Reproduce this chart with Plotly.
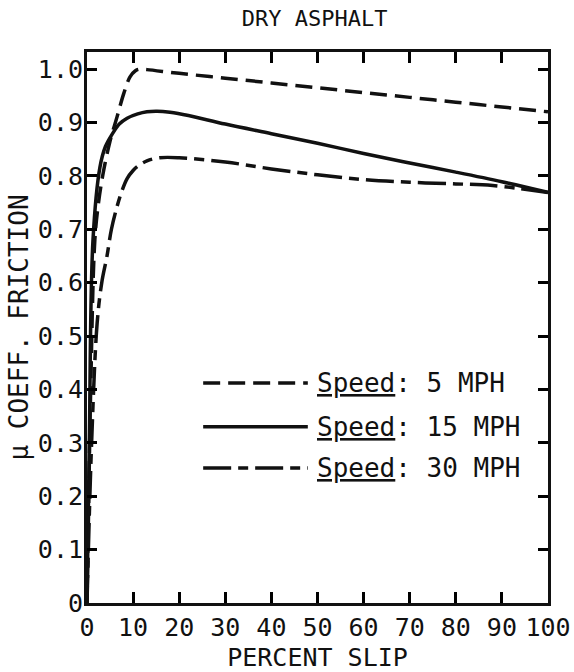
import plotly.graph_objects as go

# ---- data ----
slip_5 = [0, 0.3, 0.8, 1.7, 2.5, 3.5, 5, 6.5, 8, 9.3, 10.5, 11.5, 13, 20, 30, 40, 50, 60, 70, 80, 90, 100]
mu_5 = [0.0, 0.15, 0.40, 0.68, 0.75, 0.805, 0.865, 0.91, 0.955, 0.985, 0.997, 1.0, 0.999, 0.992, 0.983, 0.974, 0.965, 0.956, 0.947, 0.938, 0.929, 0.92]

slip_15 = [0, 0.5, 1.3, 2.8, 4, 5.6, 7, 8.7, 11, 13, 15.2, 18, 22, 30, 40, 50, 60, 70, 80, 90, 100]
mu_15 = [0.0, 0.30, 0.68, 0.816, 0.855, 0.88, 0.897, 0.908, 0.916, 0.92, 0.921, 0.919, 0.913, 0.897, 0.879, 0.861, 0.842, 0.824, 0.807, 0.789, 0.769]

slip_30 = [0, 1, 2.2, 3.2, 4.3, 5.3, 6.5, 7.5, 8.7, 10, 11, 13, 15.8, 20, 30, 40, 50, 60, 70, 80, 88, 100]
mu_30 = [0.0, 0.30, 0.524, 0.60, 0.648, 0.70, 0.742, 0.77, 0.795, 0.81, 0.818, 0.828, 0.834, 0.834, 0.826, 0.813, 0.802, 0.793, 0.788, 0.785, 0.782, 0.769]

series_names = ["5 MPH", "15 MPH", "30 MPH"]
x_ticks = [0, 10, 20, 30, 40, 50, 60, 70, 80, 90, 100]
y_ticks = [0, 0.1, 0.2, 0.3, 0.4, 0.5, 0.6, 0.7, 0.8, 0.9, 1.0]
y_tick_text = ["0", "0.1", "0.2", "0.3", "0.4", "0.5", "0.6", "0.7", "0.8", "0.9", "1.0"]

# legend sample positions (data units)
legend_x = [25.2, 47.9]
legend_y = [0.412, 0.330, 0.253]

FONT = "DejaVu Sans Mono"
INK = "#111111"
dashes = ["17px,8px", "solid", "28px,7px,10px,7px"]

fig = go.Figure()
for xs, ys, d in zip([slip_5, slip_15, slip_30], [mu_5, mu_15, mu_30], dashes):
    fig.add_trace(go.Scatter(x=xs, y=ys, mode="lines",
                             line=dict(color=INK, width=3.5, dash=d, shape="spline", smoothing=1.0),
                             showlegend=False, hoverinfo="skip"))

for name, ly, d in zip(series_names, legend_y, dashes):
    fig.add_trace(go.Scatter(x=legend_x, y=[ly, ly], mode="lines",
                             line=dict(color=INK, width=3.5, dash=d),
                             showlegend=False, hoverinfo="skip"))
    fig.add_annotation(x=legend_x[1] + 1.6, y=ly, xref="x", yref="y",
                       text="<u>Speed</u>: " + name, showarrow=False,
                       xanchor="left", yanchor="middle",
                       font=dict(family=FONT, size=26, color=INK))

fig.update_layout(
    width=574, height=672,
    margin=dict(l=87, r=26, t=52, b=69, autoexpand=False),
    paper_bgcolor="white", plot_bgcolor="white",
    title=dict(text="DRY ASPHALT", x=0.548, xanchor="center", y=0.973, yanchor="middle",
               font=dict(family=FONT, size=22, color=INK)),
    font=dict(family=FONT, size=25, color=INK),
)
fig.update_xaxes(range=[0, 100], tickmode="array", tickvals=x_ticks, ticks="inside", ticklen=11,
                 tickwidth=2.5, tickcolor="black", showline=True, linewidth=3, linecolor=INK,
                 mirror="allticks", automargin=False,
                 showgrid=False, zeroline=False,
                 title=dict(text="PERCENT SLIP", font=dict(family=FONT, size=25, color=INK), standoff=14),
                 tickfont=dict(family=FONT, size=25, color=INK))
fig.update_yaxes(range=[0, 1.032], tickmode="array", tickvals=y_ticks, ticktext=y_tick_text,
                 ticks="inside", ticklen=10, automargin=False,
                 tickwidth=2.5, tickcolor="black", showline=True, linewidth=3, linecolor=INK,
                 mirror="allticks",
                 showgrid=False, zeroline=False, ticklabelstandoff=-4,
                 title=dict(text="μ COEFF. FRICTION", font=dict(family=FONT, size=26, color=INK), standoff=2),
                 tickfont=dict(family=FONT, size=25, color=INK))

fig.write_html("out.html")
